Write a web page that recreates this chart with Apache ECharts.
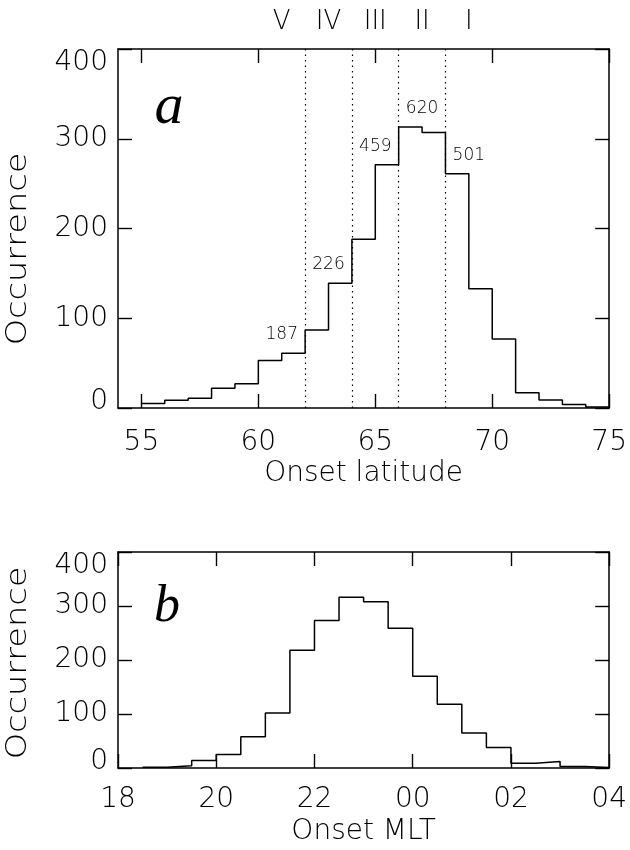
<!DOCTYPE html>
<html><head><meta charset="utf-8">
<script src="https://cdn.jsdelivr.net/npm/echarts@6/dist/echarts.min.js"></script>
<style>html,body{margin:0;padding:0;background:#fff}#c{width:630px;height:850px}</style>
</head><body><div id="c"></div>
<script>
// ---- Panel a: onset latitude ----
const latEdges = [55,56,57,58,59,60,61,62,63,64,65,66,67,68,69,70,71,72,73,74,75];
const latCounts = [5,8.5,11,22,27,53,61,87,139,188,271,313,307,261,133,77,17,9,4,1];
const latTicks = [55,60,65,70,75];
const regionNames = ['V','IV','III','II','I'];
const regionTotals = [187,226,459,620,501];
const regionBounds = [62,64,66,68];
const regionLabelAt = [61,63,65,67,69];
// ---- Panel b: onset MLT ----
const mltEdges = [18.5,19,19.5,20,20.5,21,21.5,22,22.5,23,23.5,24,24.5,25,25.5,26,26.5,27,27.5,28];
const mltCounts = [1.5,4,14,25,58,102,218,273,316,308,259,170,118,65,38,9,12,3,1];
const mltTickLabels = ['18','20','22','00','02','04'];
const occTicks = [0,100,200,300,400];

const FONT = 'DejaVu Sans';
const W = 200;
const INK = '#000';

function stepPoints(edges, counts){
  const pts = counts.map((c,i)=>[edges[i], c]);
  pts.push([edges[edges.length-1], counts[counts.length-1]]);
  return pts;
}
// label anchor: highest bin inside each region
function regionAnchors(){
  const starts = [latEdges[0]].concat(regionBounds);
  const ends = regionBounds.concat([latEdges[latEdges.length-1]]);
  return regionNames.map((n,k)=>{
    let m = 0;
    latCounts.forEach((c,i)=>{ if(latEdges[i]>=starts[k] && latEdges[i]<ends[k]) m=Math.max(m,c); });
    return {value:[regionLabelAt[k], m], name:String(regionTotals[k])};
  });
}

function axisLine(){ return {show:true, onZero:false, lineStyle:{color:INK, width:1.5}}; }
function ticks(extra){ return Object.assign({show:true, inside:true, length:14, lineStyle:{color:INK, width:1.4}}, extra||{}); }
function labels(extra){ return Object.assign({color:INK, fontFamily:FONT, fontWeight:W, fontSize:28}, extra||{}); }

function yAxes(gridIndex){
  return [
    {gridIndex, type:'value', min:0, max:400, interval:100, position:'left',
     axisLine:axisLine(), axisTick:ticks(), splitLine:{show:false},
     axisLabel:labels({margin:10, verticalAlignMinLabel:'bottom', verticalAlignMaxLabel:'top',
       formatter:v=> v===occTicks[0] ? '{z|'+v+'}' : String(v),
       rich:{z:{lineHeight:12, fontSize:28, fontFamily:FONT, fontWeight:W, color:INK}}})},
    {gridIndex, type:'value', min:0, max:400, interval:100, position:'right',
     axisLine:axisLine(), axisTick:ticks(), splitLine:{show:false}, axisLabel:{show:false}}
  ];
}

const option = {
  animation:false,
  backgroundColor:'#fff',
  grid:[
    {left:118, top:49, width:494, height:359},
    {left:118, top:552, width:495, height:216}
  ],
  xAxis:[
    {gridIndex:0, type:'value', min:54, max:75, position:'bottom',
     axisLine:axisLine(), axisTick:ticks({customValues:latTicks}), splitLine:{show:false},
     axisLabel:labels({customValues:latTicks, margin:21}),
     name:'Onset latitude', nameLocation:'middle', nameGap:52,
     nameTextStyle:{color:INK, fontFamily:FONT, fontWeight:W, fontSize:28}},
    {gridIndex:0, type:'value', min:54, max:75, position:'top',
     axisLine:axisLine(), axisTick:ticks({customValues:latTicks}), splitLine:{show:false},
     axisLabel:labels({customValues:regionLabelAt, margin:14, fontSize:26,
       formatter:v=>regionNames[regionLabelAt.indexOf(v)] || ''})},
    {gridIndex:1, type:'value', min:18, max:28, interval:2, position:'bottom',
     axisLine:axisLine(), axisTick:ticks(), splitLine:{show:false},
     axisLabel:labels({margin:18, formatter:v=>mltTickLabels[Math.round((v-18)/2)]}),
     name:'Onset MLT', nameLocation:'middle', nameGap:50,
     nameTextStyle:{color:INK, fontFamily:FONT, fontWeight:W, fontSize:28}},
    {gridIndex:1, type:'value', min:18, max:28, interval:2, position:'top',
     axisLine:axisLine(), axisTick:ticks(), splitLine:{show:false}, axisLabel:{show:false}}
  ],
  yAxis: yAxes(0).concat(yAxes(1)),
  series:[
    {type:'line', xAxisIndex:0, yAxisIndex:0, step:'end', symbol:'none',
     lineStyle:{color:INK, width:1.5}, data:stepPoints(latEdges, latCounts),
     markLine:{silent:true, symbol:['none','none'], label:{show:false},
       lineStyle:{color:INK, width:1.2, type:[1.5,4]},
       data:regionBounds.map(b=>({xAxis:b}))}},
    {type:'scatter', xAxisIndex:0, yAxisIndex:0, symbolSize:0, silent:true,
     itemStyle:{opacity:1},
     data:regionAnchors(),
     label:{show:true, position:'top', distance:10, formatter:p=>p.name,
       color:INK, fontFamily:FONT, fontWeight:W, fontSize:17}},
    {type:'line', xAxisIndex:2, yAxisIndex:2, step:'end', symbol:'none',
     lineStyle:{color:INK, width:1.5}, data:stepPoints(mltEdges, mltCounts)}
  ],
  graphic:[
    {type:'text', x:19, y:249, rotation:Math.PI/2, scaleX:1.2,
     style:{text:'Occurrence', fill:INK, font:'200 28px "DejaVu Sans"', align:'center', verticalAlign:'middle'}},
    {type:'text', x:19, y:663, rotation:Math.PI/2, scaleX:1.2,
     style:{text:'Occurrence', fill:INK, font:'200 28px "DejaVu Sans"', align:'center', verticalAlign:'middle'}},
    {type:'text', x:169, y:108,
     style:{text:'a', fill:INK, font:'italic 58px "Liberation Serif"', align:'center', verticalAlign:'middle'}},
    {type:'text', x:167, y:607,
     style:{text:'b', fill:INK, font:'italic 52px "Liberation Serif"', align:'center', verticalAlign:'middle'}}
  ]
};
echarts.init(document.getElementById('c'), null, {renderer:'canvas'}).setOption(option);
</script></body></html>
